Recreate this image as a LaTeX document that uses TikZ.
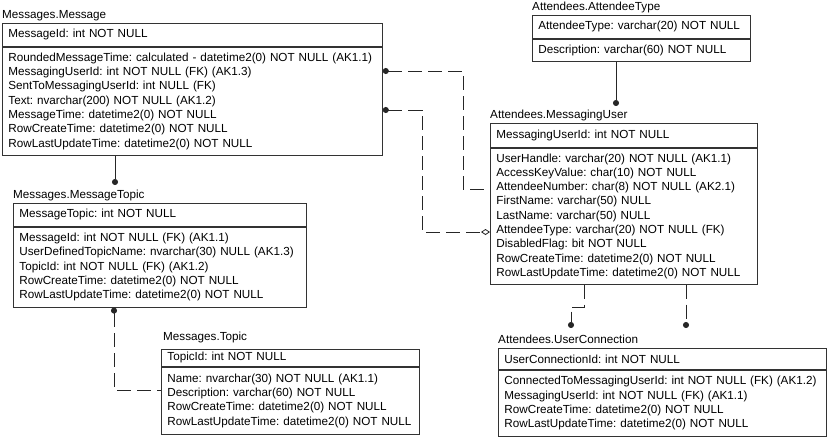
\documentclass[tikz,border=0pt]{standalone}
\usepackage{fontspec}
\setmainfont{Liberation Sans}
\usetikzlibrary{arrows.meta,positioning}

\begin{document}
\begin{tikzpicture}[
    x=1pt, y=-1pt,
    font=\fontsize{11.7pt}{14.3pt}\selectfont\frenchspacing,
    cell/.style={draw=black!80, line width=0.8pt, anchor=north west, inner xsep=6pt, inner ysep=0pt, align=left, text width=#1},
    tabname/.style={anchor=base west, inner sep=0pt, yshift=5pt},
    link/.style={draw=black!85, line width=0.8pt},
    optlink/.style={link, dash pattern=on 14pt off 6pt}
]
\useasboundingbox (0,0) rectangle (827,437);

% Messages.Message
\node[cell=368pt, minimum height=23pt] (msgK) at (2,23) {MessageId: int NOT NULL};
\node[cell=368pt, minimum height=108pt] (msgA) at (msgK.south west) {RoundedMessageTime: calculated - datetime2(0) NOT NULL (AK1.1)\\ MessagingUserId: int NOT NULL (FK) (AK1.3)\\ SentToMessagingUserId: int NULL (FK)\\ Text: nvarchar(200) NOT NULL (AK1.2)\\ MessageTime: datetime2(0) NOT NULL\\ RowCreateTime: datetime2(0) NOT NULL\\ RowLastUpdateTime: datetime2(0) NOT NULL};
\node[tabname] (msgT) at (msgK.north west) {Messages.Message};

% Messages.MessageTopic
\node[cell=281pt, minimum height=23pt] (mtpK) at (13,203) {MessageTopic: int NOT NULL};
\node[cell=281pt, minimum height=80pt] (mtpA) at (mtpK.south west) {MessageId: int NOT NULL (FK) (AK1.1)\\ UserDefinedTopicName: nvarchar(30) NULL (AK1.3)\\ TopicId: int NOT NULL (FK) (AK1.2)\\ RowCreateTime: datetime2(0) NOT NULL\\ RowLastUpdateTime: datetime2(0) NOT NULL};
\node[tabname] (mtpT) at (mtpK.north west) {Messages.MessageTopic};

% Messages.Topic
\node[cell=246pt, minimum height=17pt] (topK) at (161,349) {TopicId: int NOT NULL};
\node[cell=246pt, minimum height=67pt] (topA) at (topK.south west) {Name: nvarchar(30) NOT NULL (AK1.1)\\ Description: varchar(60) NOT NULL\\ RowCreateTime: datetime2(0) NOT NULL\\ RowLastUpdateTime: datetime2(0) NOT NULL};
\node[tabname, yshift=4pt, xshift=2pt] (topT) at (topK.north west) {Messages.Topic};

% Attendees.AttendeeType
\node[cell=206pt, minimum height=23pt] (atyK) at (532,15) {AttendeeType: varchar(20) NOT NULL};
\node[cell=206pt, minimum height=22pt] (atyA) at (atyK.south west) {Description: varchar(60) NOT NULL};
\node[tabname] (atyT) at (atyK.north west) {Attendees.AttendeeType};

% Attendees.MessagingUser
\node[cell=255pt, minimum height=24pt] (musK) at (490,123) {MessagingUserId: int NOT NULL};
\node[cell=255pt, minimum height=136pt] (musA) at (musK.south west) {UserHandle: varchar(20) NOT NULL (AK1.1)\\ AccessKeyValue: char(10) NOT NULL\\ AttendeeNumber: char(8) NOT NULL (AK2.1)\\ FirstName: varchar(50) NULL\\ LastName: varchar(50) NULL\\ AttendeeType: varchar(20) NOT NULL (FK)\\ DisabledFlag: bit NOT NULL\\ RowCreateTime: datetime2(0) NOT NULL\\ RowLastUpdateTime: datetime2(0) NOT NULL};
\node[tabname] (musT) at (musK.north west) {Attendees.MessagingUser};

% Attendees.UserConnection
\node[cell=316pt, minimum height=21pt] (ucnK) at (498,348) {UserConnectionId: int NOT NULL};
\node[cell=316pt, minimum height=66pt] (ucnA) at (ucnK.south west) {ConnectedToMessagingUserId: int NOT NULL (FK) (AK1.2)\\ MessagingUserId: int NOT NULL (FK) (AK1.1)\\ RowCreateTime: datetime2(0) NOT NULL\\ RowLastUpdateTime: datetime2(0) NOT NULL};
\node[tabname] (ucnT) at (ucnK.north west) {Attendees.UserConnection};

% relationship end points
\coordinate (mtpDot) at (115,185);
\coordinate (musDot) at (616,106);
\coordinate (ucnDot1) at (571,328);
\coordinate (ucnDot2) at (686,328);

% relationships
\draw[link, -{Circle[length=6pt]}] (msgA.south -| mtpDot) -- (mtpDot);
\draw[link, -{Circle[length=6pt]}] (atyA.south -| musDot) -- (musDot);
\draw[optlink, {Circle[length=6pt]}-] (msgA.east |- 0,71) -| (463,189) -- (musA.west |- 0,189);
\draw[optlink, {Circle[length=6pt]}-{Diamond[open, length=9pt, width=6pt]}] (msgA.east |- 0,110) -| (422,232) -- (musA.west |- 0,232);
\draw[optlink, {Circle[length=6pt]}-] (mtpA.south -| 114,0) |- (topA.west |- 0,390);
\draw[optlink, -{Circle[length=6pt]}] (musA.south -| 584,0) |- (571,307) -- (ucnDot1);
\draw[optlink, -{Circle[length=6pt]}] (musA.south -| ucnDot2) -- (ucnDot2);
\end{tikzpicture}
\end{document}
